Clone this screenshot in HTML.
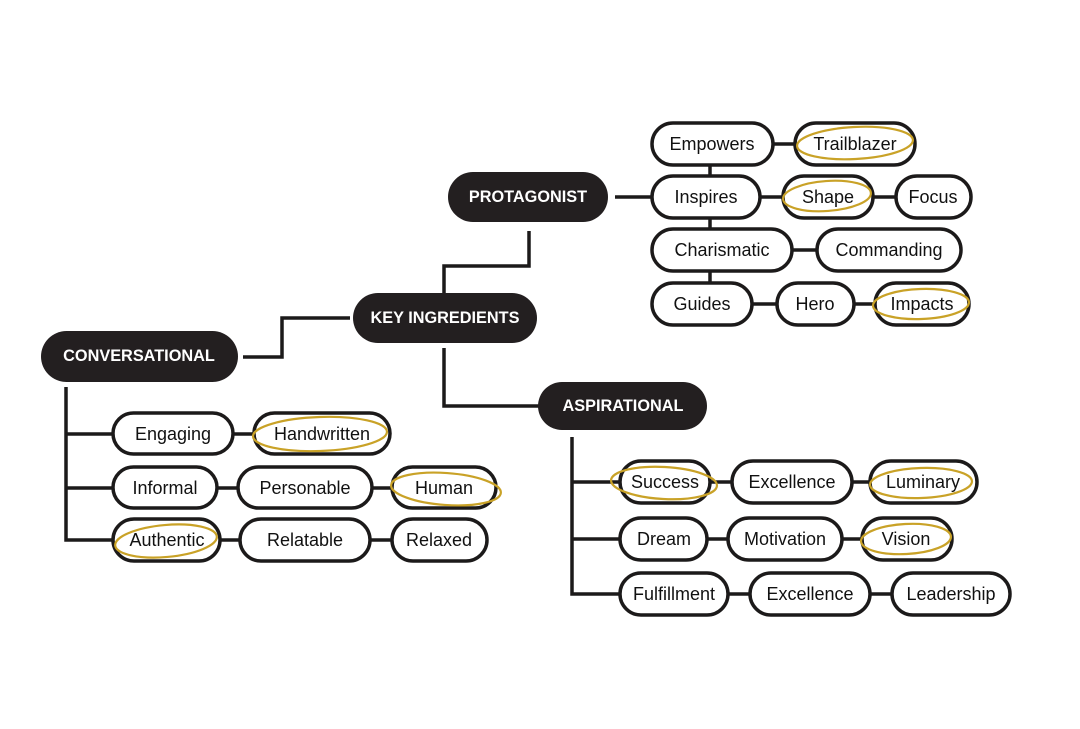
<!DOCTYPE html>
<html><head><meta charset="utf-8"><style>
html,body{margin:0;padding:0;background:#fff;}
svg{display:block;}
text{font-family:"Liberation Sans",sans-serif;}
.p{fill:#fff;stroke:#1c1a1a;stroke-width:3.5;}
.d{fill:#231f20;}
.l{stroke:#1c1a1a;stroke-width:3.5;fill:none;}
.t{font-size:18px;fill:#111;text-anchor:middle;dominant-baseline:central;}
.b{font-size:16.3px;fill:#fff;font-weight:bold;text-anchor:middle;dominant-baseline:central;}
.g{fill:none;stroke:#c9a227;stroke-width:2.2;}
</style></head><body>
<svg width="1080" height="729" viewBox="0 0 1080 729">
<path class="l" d="M615 197H652"/>
<path class="l" d="M710 144V304"/>
<path class="l" d="M773 144H795M760 197H783M873 197H896M792 250H817M752 304H777M854 304H875"/>
<path class="l" d="M529 231V266H444V293"/>
<path class="l" d="M243 357H282V318H350"/>
<path class="l" d="M444 348V406H540"/>
<path class="l" d="M66 387V540H113M66 434H113M66 488H113"/>
<path class="l" d="M233 434H254M217 488H238M372 488H392M220 540H240M370 540H392"/>
<path class="l" d="M572 437V594H620M572 482H620M572 539H620"/>
<path class="l" d="M710 482H732M852 482H870M707 539H728M842 539H862M728 594H750M870 594H892"/>
<rect class="d" x="448" y="172" width="160" height="50" rx="25"/><text class="b" x="528" y="197">PROTAGONIST</text>
<rect class="d" x="353" y="293" width="184" height="50" rx="25"/><text class="b" x="445" y="318">KEY INGREDIENTS</text>
<rect class="d" x="41" y="331" width="197" height="51" rx="25.5"/><text class="b" x="139" y="356">CONVERSATIONAL</text>
<rect class="d" x="538" y="382" width="169" height="48" rx="24"/><text class="b" x="623" y="406">ASPIRATIONAL</text>
<g>
<rect class="p" x="652" y="123" width="121" height="42" rx="21"/><text class="t" x="712" y="144">Empowers</text>
<rect class="p" x="795" y="123" width="120" height="42" rx="21"/><text class="t" x="855" y="144">Trailblazer</text>
<rect class="p" x="652" y="176" width="108" height="42" rx="21"/><text class="t" x="706" y="197">Inspires</text>
<rect class="p" x="783" y="176" width="90" height="42" rx="21"/><text class="t" x="828" y="197">Shape</text>
<rect class="p" x="896" y="176" width="75" height="42" rx="21"/><text class="t" x="933" y="197">Focus</text>
<rect class="p" x="652" y="229" width="140" height="42" rx="21"/><text class="t" x="722" y="250">Charismatic</text>
<rect class="p" x="817" y="229" width="144" height="42" rx="21"/><text class="t" x="889" y="250">Commanding</text>
<rect class="p" x="652" y="283" width="100" height="42" rx="21"/><text class="t" x="702" y="304">Guides</text>
<rect class="p" x="777" y="283" width="77" height="42" rx="21"/><text class="t" x="815" y="304">Hero</text>
<rect class="p" x="875" y="283" width="94" height="42" rx="21"/><text class="t" x="922" y="304">Impacts</text>
</g>
<rect class="p" x="113" y="413" width="120" height="41" rx="20.5"/><text class="t" x="173" y="434">Engaging</text>
<rect class="p" x="254" y="413" width="136" height="41" rx="20.5"/><text class="t" x="322" y="434">Handwritten</text>
<rect class="p" x="113" y="467" width="104" height="41" rx="20.5"/><text class="t" x="165" y="488">Informal</text>
<rect class="p" x="238" y="467" width="134" height="41" rx="20.5"/><text class="t" x="305" y="488">Personable</text>
<rect class="p" x="392" y="467" width="104" height="41" rx="20.5"/><text class="t" x="444" y="488">Human</text>
<rect class="p" x="113" y="519" width="107" height="42" rx="21"/><text class="t" x="167" y="540">Authentic</text>
<rect class="p" x="240" y="519" width="130" height="42" rx="21"/><text class="t" x="305" y="540">Relatable</text>
<rect class="p" x="392" y="519" width="95" height="42" rx="21"/><text class="t" x="439" y="540">Relaxed</text>
<rect class="p" x="620" y="461" width="90" height="42" rx="21"/><text class="t" x="665" y="482">Success</text>
<rect class="p" x="732" y="461" width="120" height="42" rx="21"/><text class="t" x="792" y="482">Excellence</text>
<rect class="p" x="870" y="461" width="107" height="42" rx="21"/><text class="t" x="923" y="482">Luminary</text>
<rect class="p" x="620" y="518" width="87" height="42" rx="21"/><text class="t" x="664" y="539">Dream</text>
<rect class="p" x="728" y="518" width="114" height="42" rx="21"/><text class="t" x="785" y="539">Motivation</text>
<rect class="p" x="862" y="518" width="90" height="42" rx="21"/><text class="t" x="906" y="539">Vision</text>
<rect class="p" x="620" y="573" width="108" height="42" rx="21"/><text class="t" x="674" y="594">Fulfillment</text>
<rect class="p" x="750" y="573" width="120" height="42" rx="21"/><text class="t" x="810" y="594">Excellence</text>
<rect class="p" x="892" y="573" width="118" height="42" rx="21"/><text class="t" x="951" y="594">Leadership</text>
<ellipse class="g" cx="855" cy="143" rx="58" ry="16" transform="rotate(-3 855 143)"/>
<ellipse class="g" cx="827" cy="196" rx="44" ry="15" transform="rotate(-4 827 196)"/>
<ellipse class="g" cx="921" cy="304" rx="48" ry="15" transform="rotate(-2 921 304)"/>
<ellipse class="g" cx="320" cy="434" rx="67" ry="17" transform="rotate(-2 320 434)"/>
<ellipse class="g" cx="446" cy="489" rx="55" ry="16" transform="rotate(4 446 489)"/>
<ellipse class="g" cx="166" cy="541" rx="51" ry="16" transform="rotate(-5 166 541)"/>
<ellipse class="g" cx="664" cy="483" rx="53" ry="16" transform="rotate(3 664 483)"/>
<ellipse class="g" cx="921" cy="483" rx="51" ry="15" transform="rotate(-2 921 483)"/>
<ellipse class="g" cx="906" cy="539" rx="45" ry="15" transform="rotate(-3 906 539)"/>
</svg>
</body></html>
